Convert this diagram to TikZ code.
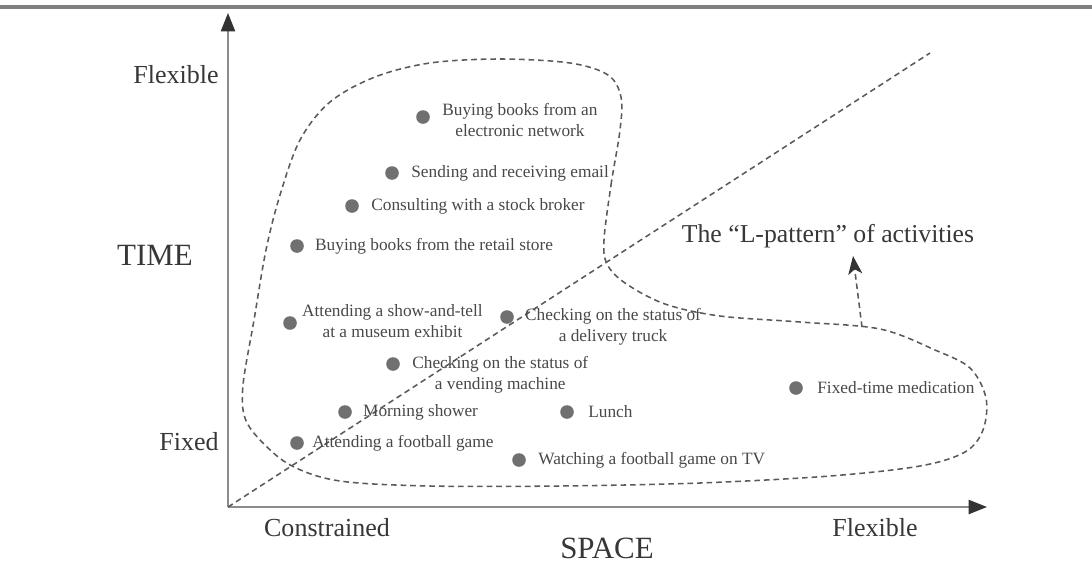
\documentclass[tikz,border=0pt]{standalone}
\usepackage{fontspec}
\setmainfont{Liberation Serif}
\usetikzlibrary{arrows.meta,positioning}
\definecolor{dotgray}{RGB}{112,112,112}
\definecolor{txtgray}{RGB}{72,72,72}
\definecolor{bigtxt}{RGB}{55,55,55}
\definecolor{linegray}{RGB}{90,90,90}
\definecolor{axisgray}{RGB}{140,140,140}

\begin{document}
\begin{tikzpicture}[%
  x=0.025cm, y=-0.025cm,
  act/.style={circle,fill=dotgray,inner sep=0pt,minimum size=0.34cm},
  actlabel/.style={font=\fontsize{12.3}{14.8}\selectfont,text=txtgray,inner sep=0pt,align=center},
  axlabel/.style={font=\fontsize{18.5}{22}\selectfont,text=bigtxt,inner sep=0pt},
  dimlabel/.style={font=\fontsize{22}{26}\selectfont,text=bigtxt,inner sep=0pt},
  lline/.style={draw=linegray,line width=1.1pt,dash pattern=on 4pt off 2.8pt}]
\useasboundingbox (0,0) rectangle (1092,567);
\coordinate (topl) at (0,7);
\coordinate (topr) at (1092,7);
\draw[black!50,line width=2.4pt] (topl) -- (topr);

\coordinate (origin) at (228,507);
\coordinate (ttop) at (228,13);
\coordinate (sright) at (987,507);
\coordinate (diagend) at (930,53);
\draw[axisgray,line width=1.4pt,-{Triangle[length=13pt,width=10pt,color=black!80]}] (origin) -- (ttop);
\draw[axisgray,line width=1.4pt,-{Triangle[length=13pt,width=10pt,color=black!80]}] (origin) -- (sright);
\draw[lline] (origin) -- (diagend);

\node[axlabel,anchor=east] (tflex) at (219,75) {Flexible};
\node[dimlabel] (time) at (155,255) {TIME};
\node[axlabel,anchor=east] (tfixed) at (219,442) {Fixed};
\node[axlabel] (sconst) at (327,528) {Constrained};
\node[dimlabel] (space) at (607,548) {SPACE};
\node[axlabel] (sflex) at (875,528) {Flexible};

\draw[lline] plot[smooth cycle,tension=0.55] coordinates {
  (604,240) (611,185) (620,130) (621,97) (608,75) (570,63) (500,59)
  (430,63) (375,77) (330,102) (300,140) (280,195) (266,250)
  (254,320) (243,385) (245,418) (262,442) (292,466) (340,481)
  (430,486) (560,486) (700,483) (830,476) (920,466) (965,452)
  (983,430) (986,398) (970,368) (935,350) (880,329) (800,322)
  (720,316) (665,304) (625,283) (607,264)};

\node[act] (ebooks) at (423,117) {};
\node[actlabel,right=0.3cm of ebooks,yshift=-2pt] {Buying books from an\\electronic network};
\node[act] (email) at (392,173) {};
\node[actlabel,right=0.3cm of email] {Sending and receiving email};
\node[act] (broker) at (352,206) {};
\node[actlabel,right=0.3cm of broker] {Consulting with a stock broker};
\node[act] (rbooks) at (297,246) {};
\node[actlabel,right=0.27cm of rbooks] {Buying books from the retail store};
\node[act] (museum) at (290,323) {};
\node[actlabel,right=0.12cm of museum,yshift=1.5pt] {Attending a show-and-tell\\at a museum exhibit};
\node[act] (truck) at (507,317) {};
\node[actlabel,right=0.27cm of truck,yshift=-7pt] {Checking on the status of\\a delivery truck};
\node[act] (vending) at (393,364) {};
\node[actlabel,right=0.3cm of vending,yshift=-7.5pt] {Checking on the status of\\a vending machine};
\node[act] (shower) at (345,412) {};
\node[actlabel,right=0.27cm of shower] {Morning shower};
\node[act] (lunch) at (567,412) {};
\node[actlabel,right=0.35cm of lunch] {Lunch};
\node[act] (game) at (297,443) {};
\node[actlabel,right=0.2cm of game] {Attending a football game};
\node[act] (tvgame) at (519,460) {};
\node[actlabel,right=0.3cm of tvgame] {Watching a football game on TV};
\node[act] (medic) at (796,388) {};
\node[actlabel,right=0.35cm of medic] {Fixed-time medication};

\node[font=\fontsize{18.3}{22}\selectfont,text=bigtxt,inner sep=0pt] (lpattern) at (828,236) {The “L-pattern” of activities};
\coordinate (lbend) at (862,327);
\coordinate (lpoint) at (853,256);
\draw[lline,-{Stealth[length=13pt,width=10pt,inset=3.5pt,color=black!80]}] (lbend) -- (lpoint);
\end{tikzpicture}
\end{document}
